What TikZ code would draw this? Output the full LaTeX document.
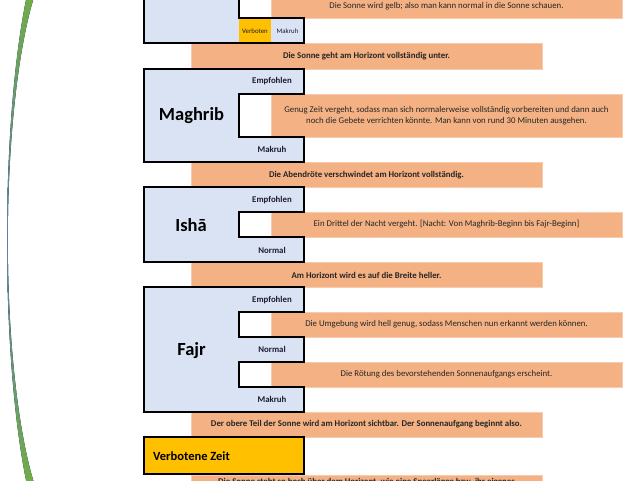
\documentclass[tikz,border=0pt]{standalone}
\usepackage{fontspec}
\setmainfont{Carlito}
\definecolor{ora}{HTML}{F4B183}
\definecolor{oraedge}{HTML}{F8CBAD}
\definecolor{blu}{HTML}{DAE3F3}
\definecolor{yel}{HTML}{FFC000}
\definecolor{grn}{HTML}{70AD47}
\definecolor{stl}{HTML}{5B7FB0}
\definecolor{txt}{HTML}{262626}
\definecolor{lab}{HTML}{1C1C30}
\tikzset{
  obox/.style={fill=ora, draw=oraedge, line width=0.6pt},
  bbox/.style={fill=blu, draw=black, line width=1.4pt, line join=miter},
  otext/.style={font=\fontsize{8.8}{10.6}\selectfont, text=txt, align=center, inner sep=0pt},
  ttext/.style={font=\fontsize{8.8}{10.6}\selectfont\bfseries, text=txt, align=center, inner sep=0pt},
  lbl/.style={font=\fontsize{8.8}{10}\selectfont\bfseries, text=lab, inner sep=0pt},
  small/.style={font=\fontsize{6.8}{8}\selectfont, text=lab, inner sep=0pt},
  big/.style={font=\fontsize{18.5}{20}\selectfont\bfseries, text=black, inner sep=0pt},
}
\begin{document}
\begin{tikzpicture}[x=1pt,y=-1pt]
\useasboundingbox (0,0) rectangle (640,480);
\clip (0,0) rectangle (640,480);

% green arc
\fill[top color=grn, bottom color=grn, middle color=stl]
  plot[variable=\t, domain=-5:485, samples=80] ({58.8-51.8*sqrt(1-((\t-240)/310)^2)}, \t)
  -- plot[variable=\t, domain=485:-5, samples=80] ({65.5-57.7*sqrt(1-((\t-240)/290)^2)}, \t)
  -- cycle;

% orange boxes in notches
\draw[obox] (271,-10) rectangle (622,18);
\draw[obox] (271,94) rectangle (622,137);
\draw[obox] (271,212) rectangle (622,237);
\draw[obox] (271,312) rectangle (622,337);
\draw[obox] (271,362) rectangle (622,387);

% transition boxes
\draw[obox] (191,43) rectangle (542,69);
\draw[obox] (191,162) rectangle (542,187);
\draw[obox] (191,262) rectangle (542,287);
\draw[obox] (191,412) rectangle (542,437);
\draw[obox] (191,475) rectangle (542,500);

% top box (Asr, cut)
\fill[blu] (144,-10) -- (239,-10) -- (239,18) -- (304,18) -- (304,43) -- (144,43) -- cycle;
\fill[yel] (239,18) rectangle (271,43);
\draw[black, line width=1.4pt] (144,-10) -- (144,43) -- (304,43) -- (304,18) -- (239,18) -- (239,-10);

% Maghrib
\draw[bbox] (144,69) -- (304,69) -- (304,94) -- (239,94) -- (239,137) -- (304,137) -- (304,162) -- (144,162) -- cycle;
% Isha
\draw[bbox] (144,187) -- (304,187) -- (304,212) -- (239,212) -- (239,237) -- (304,237) -- (304,262) -- (144,262) -- cycle;
% Fajr
\draw[bbox] (144,287) -- (304,287) -- (304,312) -- (239,312) -- (239,337) -- (304,337) -- (304,362) -- (239,362) -- (239,387) -- (304,387) -- (304,412) -- (144,412) -- cycle;
% Verbotene Zeit
\draw[fill=yel, draw=black, line width=1.4pt] (144,437) rectangle (304,474);

% texts
\node[otext] (a1) at (446.5,6.5) {Die Sonne wird gelb; also man kann normal in die Sonne schauen.};
\node[small] (c1) at (255,31) {Verboten};
\node[small] (c2) at (287.5,31) {Makruh};
\node[ttext] (t1) at (366.5,56.5) {Die Sonne geht am Horizont vollständig unter.};

\node[big] (m) at (191.5,116) {Maghrib};
\node[lbl] (m1) at (272,81) {Empfohlen};
\node[lbl] (m2) at (272,149.5) {Makruh};
\node[otext] (a2) at (446.5,115.5) {Genug Zeit vergeht, sodass man sich normalerweise vollständig vorbereiten und dann auch\\noch die Gebete verrichten könnte. Man kann von rund 30 Minuten ausgehen.};
\node[ttext] (t2) at (366.5,175) {Die Abendröte verschwindet am Horizont vollständig.};

\node[big] (i) at (191,225) {Ishā};
\node[lbl] (i1) at (272,200) {Empfohlen};
\node[lbl] (i2) at (272,250) {Normal};
\node[otext] (a3) at (446.5,224.5) {Ein Drittel der Nacht vergeht. [Nacht: Von Maghrib-Beginn bis Fajr-Beginn]};
\node[ttext] (t3) at (366.5,275) {Am Horizont wird es auf die Breite heller.};

\node[big] (f) at (191.5,350.5) {Fajr};
\node[lbl] (f1) at (272,300) {Empfohlen};
\node[lbl] (f2) at (272,349.5) {Normal};
\node[lbl] (f3) at (272,399.5) {Makruh};
\node[otext] (a4) at (446.5,324.5) {Die Umgebung wird hell genug, sodass Menschen nun erkannt werden können.};
\node[otext] (a5) at (446.5,374.5) {Die Rötung des bevorstehenden Sonnenaufgangs erscheint.};
\node[ttext] (t4) at (366.5,424.5) {Der obere Teil der Sonne wird am Horizont sichtbar. Der Sonnenaufgang beginnt also.};

\node[font=\fontsize{12.5}{14}\selectfont\bfseries, text=black, anchor=west, inner sep=0pt] (v) at (153,456) {Verbotene Zeit};
\node[ttext, anchor=base] (t5) at (366.5,484) {Die Sonne steht so hoch über dem Horizont, wie eine Speerlänge bzw. ihr eigenes};
\end{tikzpicture}
\end{document}
